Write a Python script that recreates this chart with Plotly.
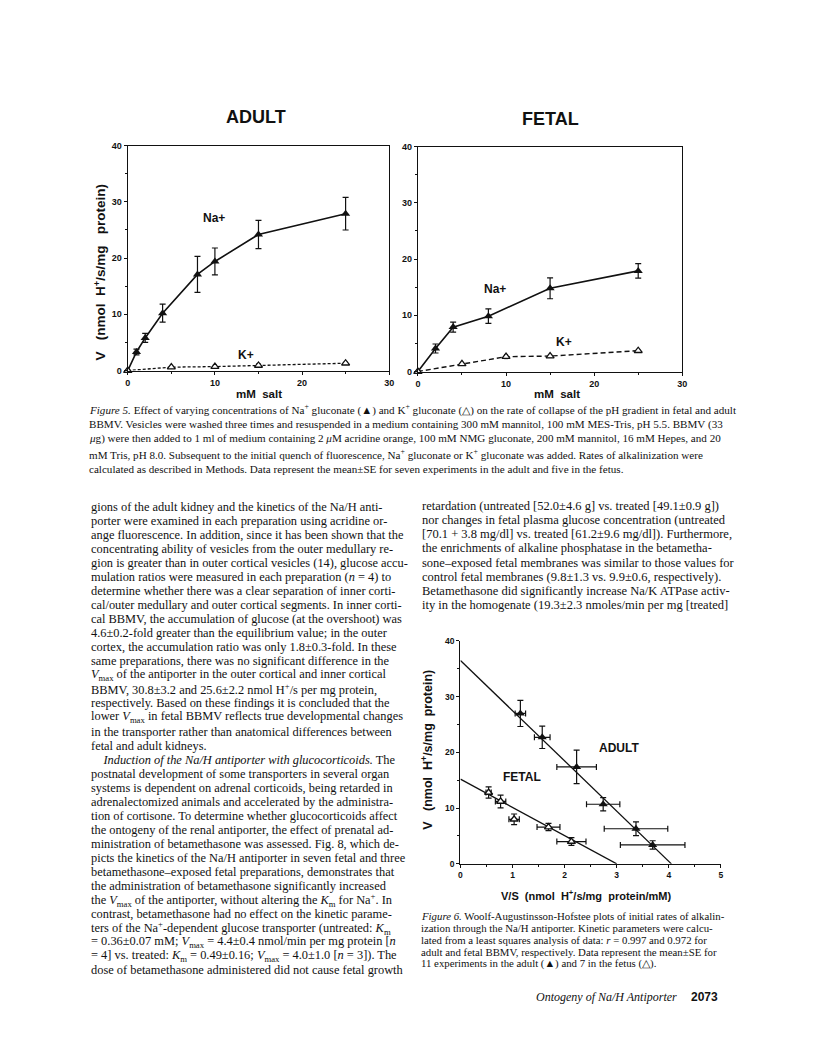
import plotly.graph_objects as go

W, H = 816, 1064

# ---- Figure 5 data (mM salt vs V, nmol H+/s/mg protein) ----
adult_na_salt = [0, 1, 2, 4, 8, 10, 15, 25]
adult_na_v = [0, 3.3, 5.8, 10.2, 17.1, 19.4, 24.2, 27.9]
adult_na_se = [0, 0.5, 0.8, 1.6, 3.2, 2.4, 2.5, 2.9]
adult_k_salt = [0, 5, 10, 15, 25]
adult_k_v = [0, 0.6, 0.7, 0.9, 1.3]
adult_k_se = [0, 0.15, 0.3, 0.35, 0.2]

fetal_na_salt = [0, 2, 4, 8, 15, 25]
fetal_na_v = [0, 4.1, 7.9, 9.85, 14.8, 17.9]
fetal_na_se = [0, 0.8, 0.9, 1.3, 1.85, 1.3]
fetal_k_salt = [0, 5, 10, 15, 25]
fetal_k_v = [0, 1.35, 2.64, 2.75, 3.7]
fetal_k_se = [0, 0.2, 0.35, 0.25, 0.2]

# ---- Figure 6 data (V/S vs V) ----
adult_vs = [1.15, 1.57, 2.23, 2.74, 3.37, 3.69]
adult_vs_se = [0.1, 0.15, 0.38, 0.32, 0.61, 0.62]
adult_v = [27.0, 22.7, 17.4, 10.7, 6.3, 3.4]
adult_v_se = [2.35, 2.0, 3.0, 1.2, 1.25, 0.75]
fetal_vs = [0.54, 0.77, 1.03, 1.69, 2.13]
fetal_vs_se = [0.05, 0.1, 0.1, 0.22, 0.28]
fetal_v = [12.8, 11.2, 8.0, 6.6, 4.0]
fetal_v_se = [1.0, 1.15, 0.95, 0.65, 0.7]
# least squares lines: (V intercept, V/S intercept)
adult_fit = (36.5, 4.05)
fetal_fit = (15.2, 3.0)

# ---- page text ----
fig5_caption = [
    "<i>Figure 5.</i> Effect of varying concentrations of Na<sup>+</sup> gluconate (▲) and K<sup>+</sup> gluconate (△) on the rate of collapse of the pH gradient in fetal and adult",
    "BBMV. Vesicles were washed three times and resuspended in a medium containing 300 mM mannitol, 100 mM MES-Tris, pH 5.5. BBMV (33",
    "<i>μ</i>g) were then added to 1 ml of medium containing 2 <i>μ</i>M acridine orange, 100 mM NMG gluconate, 200 mM mannitol, 16 mM Hepes, and 20",
    "mM Tris, pH 8.0. Subsequent to the initial quench of fluorescence, Na<sup>+</sup> gluconate or K<sup>+</sup> gluconate was added. Rates of alkalinization were",
    "calculated as described in Methods. Data represent the mean±SE for seven experiments in the adult and five in the fetus.",
]
left_column = [
    "gions of the adult kidney and the kinetics of the Na/H anti-",
    "porter were examined in each preparation using acridine or-",
    "ange fluorescence. In addition, since it has been shown that the",
    "concentrating ability of vesicles from the outer medullary re-",
    "gion is greater than in outer cortical vesicles (14), glucose accu-",
    "mulation ratios were measured in each preparation (<i>n</i> = 4) to",
    "determine whether there was a clear separation of inner corti-",
    "cal/outer medullary and outer cortical segments. In inner corti-",
    "cal BBMV, the accumulation of glucose (at the overshoot) was",
    "4.6±0.2-fold greater than the equilibrium value; in the outer",
    "cortex, the accumulation ratio was only 1.8±0.3-fold. In these",
    "same preparations, there was no significant difference in the",
    "<i>V</i><sub>max</sub> of the antiporter in the outer cortical and inner cortical",
    "BBMV, 30.8±3.2 and 25.6±2.2 nmol H<sup>+</sup>/s per mg protein,",
    "respectively. Based on these findings it is concluded that the",
    "lower <i>V</i><sub>max</sub> in fetal BBMV reflects true developmental changes",
    "in the transporter rather than anatomical differences between",
    "fetal and adult kidneys.",
    "    <i>Induction of the Na/H antiporter with glucocorticoids.</i> The",
    "postnatal development of some transporters in several organ",
    "systems is dependent on adrenal corticoids, being retarded in",
    "adrenalectomized animals and accelerated by the administra-",
    "tion of cortisone. To determine whether glucocorticoids affect",
    "the ontogeny of the renal antiporter, the effect of prenatal ad-",
    "ministration of betamethasone was assessed. Fig. 8, which de-",
    "picts the kinetics of the Na/H antiporter in seven fetal and three",
    "betamethasone–exposed fetal preparations, demonstrates that",
    "the administration of betamethasone significantly increased",
    "the <i>V</i><sub>max</sub> of the antiporter, without altering the <i>K</i><sub>m</sub> for Na<sup>+</sup>. In",
    "contrast, betamethasone had no effect on the kinetic parame-",
    "ters of the Na<sup>+</sup>-dependent glucose transporter (untreated: <i>K</i><sub>m</sub>",
    "= 0.36±0.07 mM; <i>V</i><sub>max</sub> = 4.4±0.4 nmol/min per mg protein [<i>n</i>",
    "= 4] vs. treated: <i>K</i><sub>m</sub> = 0.49±0.16; <i>V</i><sub>max</sub> = 4.0±1.0 [<i>n</i> = 3]). The",
    "dose of betamethasone administered did not cause fetal growth",
]
right_column = [
    "retardation (untreated [52.0±4.6 g] vs. treated [49.1±0.9 g])",
    "nor changes in fetal plasma glucose concentration (untreated",
    "[70.1 + 3.8 mg/dl] vs. treated [61.2±9.6 mg/dl]). Furthermore,",
    "the enrichments of alkaline phosphatase in the betametha-",
    "sone–exposed fetal membranes was similar to those values for",
    "control fetal membranes (9.8±1.3 vs. 9.9±0.6, respectively).",
    "Betamethasone did significantly increase Na/K ATPase activ-",
    "ity in the homogenate (19.3±2.3 nmoles/min per mg [treated]",
]
fig6_caption = [
    "<i>Figure 6.</i> Woolf-Augustinsson-Hofstee plots of initial rates of alkalin-",
    "ization through the Na/H antiporter. Kinetic parameters were calcu-",
    "lated from a least squares analysis of data: <i>r</i> = 0.997 and 0.972 for",
    "adult and fetal BBMV, respectively. Data represent the mean±SE for",
    "11 experiments in the adult (▲) and 7 in the fetus (△).",
]

INK = "#111111"
SANS = "Liberation Sans"
SERIF = "Liberation Serif"


def px(x):
    return x / W


def py(y):
    return 1 - y / H


def err(vals, thick=1.2, width=3):
    return dict(type="data", array=vals, visible=True, color=INK,
                thickness=thick, width=width)


def axis(lo, hi, dom, dtick, minor, mirror, tsize=9):
    return dict(
        domain=dom, range=[lo, hi], dtick=dtick, tick0=0,
        showline=True, linecolor=INK, linewidth=1.4, mirror=mirror,
        ticks="outside", ticklen=3, tickwidth=1.2, tickcolor=INK,
        minor=dict(ticks="outside", ticklen=2, tickcolor=INK, dtick=minor,
                   tickwidth=1),
        showgrid=False, zeroline=False, fixedrange=True,
        tickfont=dict(family=SANS, size=tsize, color=INK, weight="bold"),
    )


fig = go.Figure()

# Figure 5 - adult
fig.add_trace(go.Scatter(
    x=adult_na_salt, y=adult_na_v, error_y=err(adult_na_se),
    mode="lines+markers", line=dict(color=INK, width=1.6),
    marker=dict(symbol="triangle-up", size=8, color=INK),
    xaxis="x", yaxis="y", cliponaxis=False))
fig.add_trace(go.Scatter(
    x=adult_k_salt, y=adult_k_v, error_y=err(adult_k_se, 1, 2),
    mode="lines+markers", line=dict(color=INK, width=1.3, dash="3px,2px"),
    marker=dict(symbol="triangle-up", size=7, color="white",
                line=dict(color=INK, width=1.3)),
    xaxis="x", yaxis="y", cliponaxis=False))

# Figure 5 - fetal
fig.add_trace(go.Scatter(
    x=fetal_na_salt, y=fetal_na_v, error_y=err(fetal_na_se),
    mode="lines+markers", line=dict(color=INK, width=1.6),
    marker=dict(symbol="triangle-up", size=8, color=INK),
    xaxis="x2", yaxis="y2", cliponaxis=False))
fig.add_trace(go.Scatter(
    x=fetal_k_salt, y=fetal_k_v, error_y=err(fetal_k_se, 1, 2),
    mode="lines+markers", line=dict(color=INK, width=1.4, dash="5px,3px"),
    marker=dict(symbol="triangle-up", size=7, color="white",
                line=dict(color=INK, width=1.3)),
    xaxis="x2", yaxis="y2", cliponaxis=False))

# Figure 6 - fit lines and points
for (v0, s0) in (adult_fit, fetal_fit):
    fig.add_trace(go.Scatter(
        x=[0, s0], y=[v0, 0], mode="lines", line=dict(color=INK, width=1.3),
        xaxis="x3", yaxis="y3", cliponaxis=False))
fig.add_trace(go.Scatter(
    x=adult_vs, y=adult_v, error_y=err(adult_v_se), error_x=err(adult_vs_se),
    mode="markers", marker=dict(symbol="triangle-up", size=8, color=INK),
    xaxis="x3", yaxis="y3", cliponaxis=False))
fig.add_trace(go.Scatter(
    x=fetal_vs, y=fetal_v, error_y=err(fetal_v_se), error_x=err(fetal_vs_se),
    mode="markers", marker=dict(symbol="triangle-up", size=7, color="white",
                                line=dict(color=INK, width=1.4)),
    xaxis="x3", yaxis="y3", cliponaxis=False))

fig.update_layout(
    width=W, height=H, margin=dict(l=0, r=0, t=0, b=0),
    paper_bgcolor="white", plot_bgcolor="white", showlegend=False,
    xaxis=axis(0, 30, [px(126), px(390)], 10, 5, True),
    yaxis=axis(0, 40, [py(369), py(142)], 10, 5, True),
    xaxis2=dict(axis(0, 30, [px(419), px(686)], 10, 5, True), anchor="y2"),
    yaxis2=dict(axis(0, 40, [py(370), py(143)], 10, 5, True), anchor="x2"),
    xaxis3=dict(axis(0, 5, [px(462), px(725)], 1, 0.5, False, 8.5), anchor="y3"),
    yaxis3=dict(axis(0, 40, [py(867), py(642)], 10, 5, False, 8.5), anchor="x3"),
)

ann = []


def text(x, y, s, size, family=SERIF, xanchor="left", bold=False, angle=0, **kw):
    f = dict(family=family, size=size, color=INK)
    if bold:
        f["weight"] = "bold"
    ann.append(dict(x=px(x), y=py(y), xref="paper", yref="paper", text=s,
                    showarrow=False, xanchor=xanchor, yanchor="middle",
                    font=f, textangle=angle, **kw))


def label(x, y, s, size, ax):
    ann.append(dict(x=x, y=y, xref="x" + ax, yref="y" + ax, text=s,
                    showarrow=False, xanchor="center", yanchor="middle",
                    font=dict(family=SANS, size=size, color=INK, weight="bold")))


# chart titles / axis titles
text(255, 113, "ADULT", 18, SANS, "center", True)
text(553, 115, "FETAL", 18, SANS, "center", True)
text(98, 270, "V   (nmol  H<sup>+</sup>/s/mg   protein)", 13.5, SANS, "center", True, -90)
text(259, 393, "mM  salt", 11.5, SANS, "center", True)
text(559, 393, "mM  salt", 11.5, SANS, "center", True)
text(428, 752, "V   (nmol  H<sup>+</sup>/s/mg  protein)", 12.5, SANS, "center", True, -90)
text(589, 898, "V/S  (nmol  H<sup>+</sup>/s/mg  protein/mM)", 11, SANS, "center", True)

label(9.9, 27.1, "Na+", 12, "")
label(13.6, 2.8, "K+", 12, "")
label(8.7, 14.7, "Na+", 12, "2")
label(16.6, 5.3, "K+", 12, "2")
label(3.05, 20.8, "ADULT", 12, "3")
label(1.18, 15.5, "FETAL", 12, "3")

for i, s in enumerate(fig5_caption):
    text(85, 408 + i * 15.0, s, 11.1)
for i, s in enumerate(left_column):
    text(87, 507 + i * 14.15, s, 12.4)
for i, s in enumerate(right_column):
    text(421, 506 + i * 14.2, s, 12.5)
for i, s in enumerate(fig6_caption):
    text(420, 920 + i * 12, s, 10.8)

text(683, 1001, "<i>Ontogeny of Na/H Antiporter</i>", 12, SERIF, "right")
text(724, 1001, "2073", 12, SANS, "right", True)

fig.update_layout(annotations=ann)
# drop the default 8px body margin so the page pixels line up with the figure
fig.write_html("out.html", config={"displayModeBar": False},
               post_script="document.body.style.margin='0';"
                           "document.body.style.overflow='hidden';")
